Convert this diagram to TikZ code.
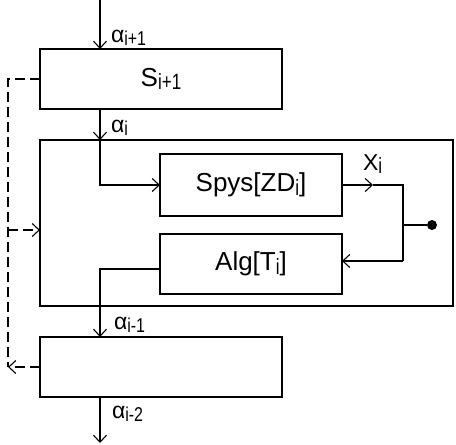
\documentclass[tikz,border=0pt]{standalone}
\usepackage{fontspec}
\setmainfont{Liberation Sans}
\usetikzlibrary{arrows.meta,calc}
\newcommand\bsub[1]{\raisebox{-3.3pt}{\scalebox{1}[1.3]{\fontsize{17}{17}\selectfont #1}}}
\newcommand\asub[1]{\raisebox{-3pt}{\scalebox{1}[1.25]{\fontsize{16}{16}\selectfont #1}}}
\begin{document}
\begin{tikzpicture}[x=1pt,y=-1pt,
  every node/.style={inner sep=0pt, outer sep=0pt},
  box/.style={draw, line width=1.2pt, rectangle, font=\fontsize{26}{28}\selectfont},
  ln/.style={line width=1.1pt},
  arr/.style={ln, -{Straight Barb[length=7pt,width=13pt,line width=1.1pt]}},
  dsh/.style={dash pattern=on 10pt off 5pt},
  lab/.style={anchor=base west, font=\fontsize{23}{25}\selectfont}]
\useasboundingbox (0,0) rectangle (456,445);
% boxes
\node[box, minimum width=242pt, minimum height=60pt] (s) at (161,79) {S\bsub{i+1}};
\node[box, minimum width=413pt, minimum height=166pt] (big) at (246.5,223) {};
\node[box, minimum width=182pt, minimum height=62pt] (spys) at (251,185) {Spys[ZD\bsub{i}]};
\node[box, minimum width=182pt, minimum height=60pt] (alg) at (251,264) {Alg[T\bsub{i}]};
\node[box, minimum width=242pt, minimum height=60pt] (bot) at (161,367) {};
% coordinates
\coordinate (mainx) at (100,0);
\coordinate (bend1) at (100,185);
\coordinate (xmid) at (373,185);
\coordinate (jtop) at (403,185);
\coordinate (jmid) at (403,225);
\coordinate (jbot) at (403,261);
\coordinate (end) at (100,443);
\coordinate (dl1) at (8,79);
\coordinate (dl2) at (8,367);
\coordinate (dl3) at (8,230);
\node[circle, fill, minimum size=10pt] (dot) at (432,225) {};
% main flow
\draw[arr] (mainx) -- (mainx |- s.north);
\draw[arr] (mainx |- s.south) -- (mainx |- big.north);
\draw[arr] (mainx |- big.north) -- (bend1) -- (spys.west);
\draw[arr] (spys.east) -- (xmid);
\draw[ln] (xmid) -- (jtop) -- (jbot);
\draw[arr] (jbot) -- (jbot -| alg.east);
\draw[ln] (jmid) -- (dot);
\draw[arr] ($(alg.west)+(0,5)$) -| (mainx |- bot.north);
\draw[arr] (mainx |- bot.south) -- (end);
% dashed feedback
\draw[ln, dsh] (s.west) -- (dl1) -- (dl2);
\draw[arr, dsh] (bot.west) -- (dl2);
\draw[arr, dsh] (dl3) -- (dl3 -| big.west);
% labels
\node[lab] (a1) at (111,42) {α\asub{i+1}};
\node[lab] (a2) at (111,132) {α\asub{i}};
\node[lab] (a3) at (114,329) {α\asub{i-1}};
\node[lab] (a4) at (112,418) {α\asub{i-2}};
\node[lab, font=\fontsize{23}{25}\selectfont] (xi) at (363,170) {X\bsub{i}};
\end{tikzpicture}
\end{document}
